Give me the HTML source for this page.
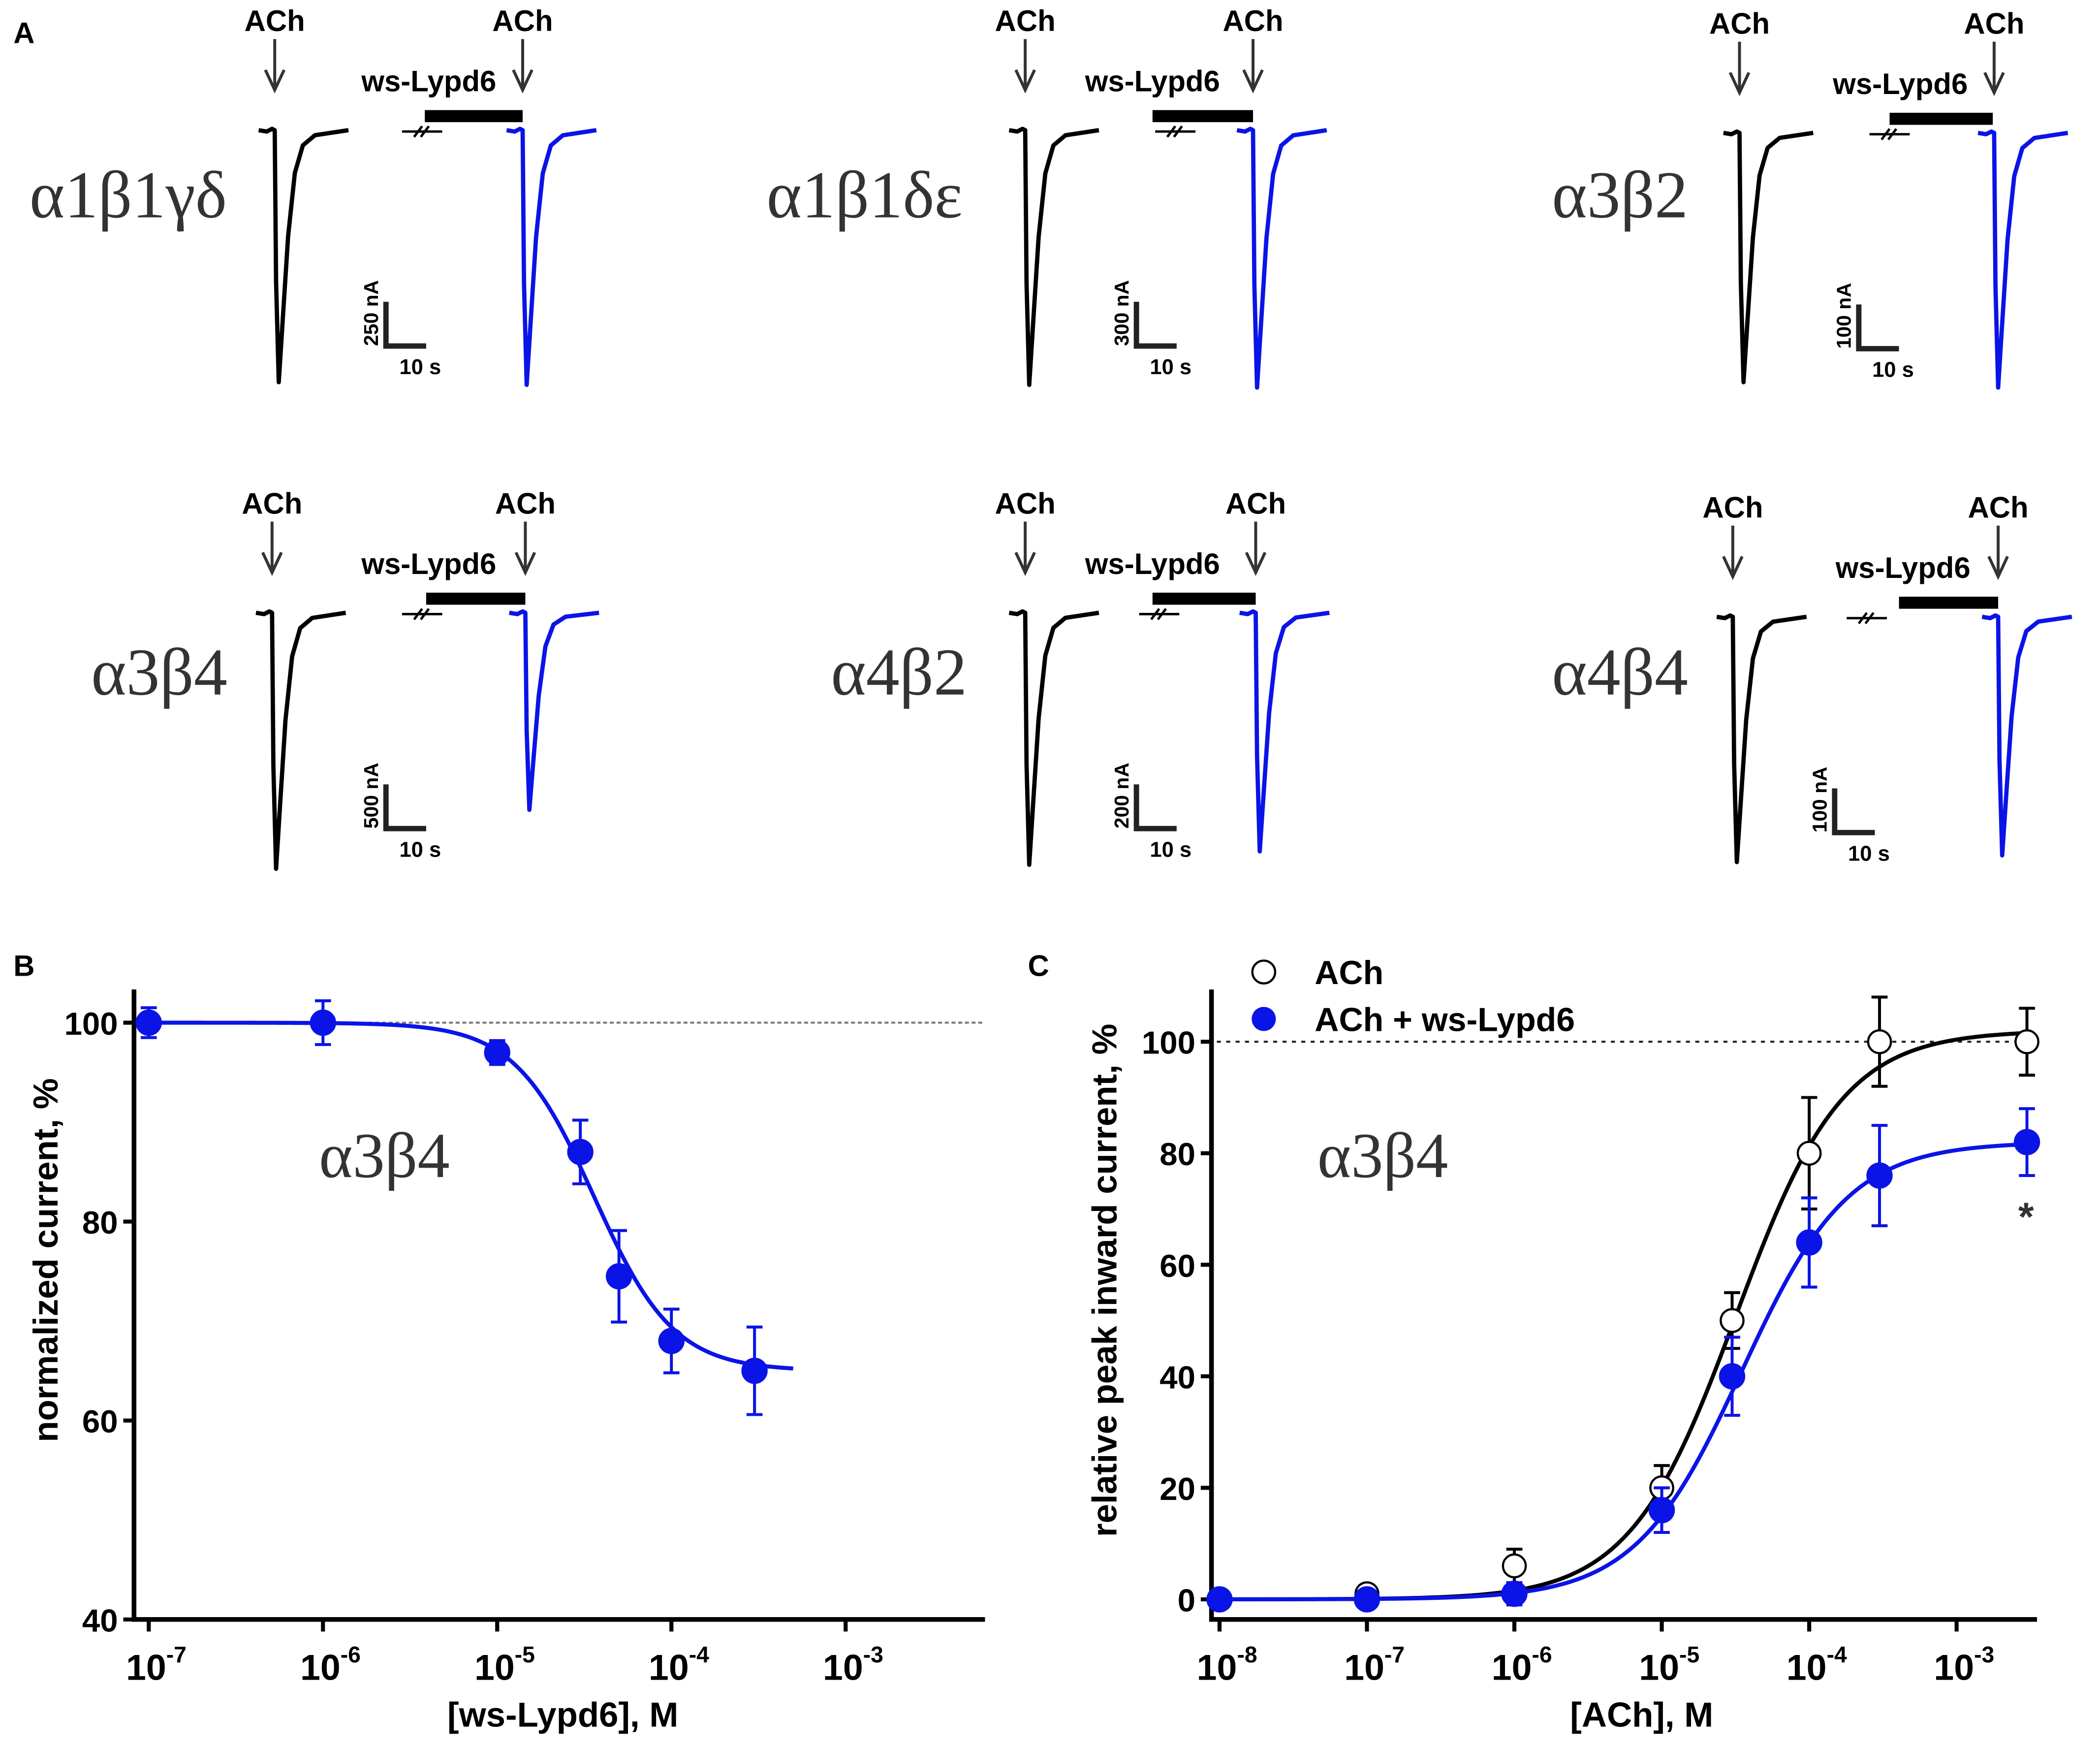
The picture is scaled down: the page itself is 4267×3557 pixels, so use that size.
<!DOCTYPE html>
<html><head><meta charset="utf-8"><style>html,body{margin:0;padding:0;background:#fff}svg{display:block}
.b{font-family:"Liberation Sans",sans-serif;font-weight:bold}
.g{font-family:"Liberation Serif","DejaVu Serif",serif;fill:#333}</style></head>
<body>
<svg id="fig" xmlns="http://www.w3.org/2000/svg" width="4267" height="3557" viewBox="0 0 1567 1306">
<rect width="1567" height="1306" fill="#fff"/>
<text class="b" x="10" y="32" font-size="22">A</text>
<g id="panelA"></g>
<text class="b" x="10" y="728" font-size="22">B</text>
<text class="b" x="767" y="728" font-size="22">C</text>
<g id="chartB"></g>
<g id="chartC"></g>
</svg>
<script>
// ---- Panel B data ----
const bConc = [1e-7, 1e-6, 1e-5, 3e-5, 5e-5, 1e-4, 3e-4];
const bMean = [100, 100, 97, 87, 74.5, 68, 65];
const bErr = [1.5, 2.2, 1.2, 3.2, 4.6, 3.2, 4.4];
const bFit = [65, 3.6e-5, 1.9]; // bottom, IC50, hill
const bYTicks = [40, 60, 80, 100];
const bXTicks = [-7, -6, -5, -4, -3];
// ---- Panel C data ----
const cConc = [1e-8, 1e-7, 1e-6, 1e-5, 3e-5, 1e-4, 3e-4, 3e-3];
const cAch = [0, 1, 6, 20, 50, 80, 100, 100];
const cAchErr = [0.5, 1, 3, 4, 5, 10, 8, 6];
const cLyp = [0, 0, 1, 16, 40, 64, 76, 82];
const cLypErr = [0.5, 0.5, 2, 4, 7, 8, 9, 6];
const cAchFit = [102, 3.2e-5, 1.2];
const cLypFit = [82, 3.5e-5, 1.2];
const cYTicks = [0, 20, 40, 60, 80, 100];
const cXTicks = [-8, -7, -6, -5, -4, -3];

const NS = "http://www.w3.org/2000/svg";
function mk(parent, tag, attrs, text) {
  const e = document.createElementNS(NS, tag);
  for (const k in attrs) e.setAttribute(k, attrs[k]);
  if (text !== undefined) e.textContent = text;
  parent.appendChild(e); return e;
}

function drawChart(g, o) {
  const xs = c => o.x0 + (Math.log10(c) - o.lx0) * o.dec;
  const ys = v => o.yb - (v - o.ymin) * o.ppu;
  let ax = mk(g, 'path', {d:`M${o.axX},${o.axTop} V${o.axY} H${o.axR}`, stroke:'#000', 'stroke-width':3.5, fill:'none'});
  
  
  o.yt.forEach(v => {
    let t = mk(g, 'line', {x1:o.axX-8, x2:o.axX, y1:ys(v), y2:ys(v), stroke:'#000', 'stroke-width':3});
    
    
    let l = mk(g, 'text', {x:o.axX-12, y:ys(v)+9, 'text-anchor':'end', 'font-size':24, class:'b'}, String(v));
    
    
  });
  o.xt.forEach(p => {
    const x = xs(Math.pow(10, p));
    let t = mk(g, 'line', {x1:x, x2:x, y1:o.axY, y2:o.axY+9, stroke:'#000', 'stroke-width':3});
    
    
    let l = mk(g, 'text', {x:x-17, y:o.axY+45, 'font-size':27, class:'b'});
    
    
    l.textContent = '10';
    mk(l, 'tspan', {dy:-13, 'font-size':17}, String(p));
  });
  let xl = mk(g, 'text', {x:o.xlx, y:o.axY+80, 'text-anchor':'middle', 'font-size':26, class:'b'}, o.xlabel);
  
  
  let yl = mk(g, 'text', {transform:`translate(${o.ylX},${o.yly}) rotate(-90)`, 'text-anchor':'middle', 'font-size':26, class:'b'}, o.ylabel);
  
  
  let dl = mk(g, 'line', {x1:o.dashX1, x2:o.dashX2, y1:ys(100), y2:ys(100), stroke:o.dashC, 'stroke-width':1.5, 'stroke-dasharray':o.dashA});
  
  
  let st = mk(g, 'text', {x:o.subX, y:o.subY, 'font-size':48, class:'g'}, 'α3β4');
  
  
  return {xs, ys};
}

function series(g, sc, conc, mean, err, fit, color, filled, fitRange, type, name) {
  let d = '';
  for (let i = 0; i <= 200; i++) {
    const lc = fitRange[0] + (fitRange[1]-fitRange[0]) * i / 200;
    const c = Math.pow(10, lc);
    let v;
    if (type === 'inh') v = fit[0] + (100 - fit[0]) / (1 + Math.pow(c / fit[1], fit[2]));
    else v = fit[0] / (1 + Math.pow(fit[1] / c, fit[2]));
    d += (i ? 'L' : 'M') + sc.xs(c).toFixed(2) + ',' + sc.ys(v).toFixed(2);
  }
  let p = mk(g, 'path', {d, stroke:color, 'stroke-width':3, fill:'none'});
  
  
  conc.forEach((c, i) => {
    const x = sc.xs(c), y = sc.ys(mean[i]), yt = sc.ys(mean[i] + err[i]), yb = sc.ys(mean[i] - err[i]);
    let e = mk(g, 'path', {d:`M${x},${yt}V${yb}M${x-6},${yt}H${x+6}M${x-6},${yb}H${x+6}`, stroke:color, 'stroke-width':2.2, fill:'none'});
    
    
    let m = mk(g, 'circle', {cx:x, cy:y, r:filled ? 9 : 8.5, fill:filled ? color : '#fff', stroke:filled ? color : '#000', 'stroke-width':1.6});
    
    
  });
}

const gB = document.getElementById('chartB');
const sB = drawChart(gB, {x0:111, lx0:-7, dec:130, yb:1208, ymin:40, ppu:7.42, axX:100, axTop:738, axY:1208, axR:735,
  yt:bYTicks, xt:bXTicks, xlabel:'[ws-Lypd6], M', xlx:420, ylabel:'normalized current, %', ylX:43, yly:940,
  dashX1:120, dashX2:735, dashC:'#777', dashA:'3,2', subX:238, subY:878});
series(gB, sB, bConc, bMean, bErr, bFit, '#0a14e6', true, [-7, Math.log10(5e-4)], 'inh', 'lypd6');

const gC = document.getElementById('chartC');
const sC = drawChart(gC, {x0:910, lx0:-8, dec:110, yb:1193, ymin:0, ppu:4.16, axX:904, axTop:738, axY:1208, axR:1520,
  yt:cYTicks, xt:cXTicks, xlabel:'[ACh], M', xlx:1225, ylabel:'relative peak inward current, %', ylX:833, yly:955,
  dashX1:908, dashX2:1520, dashC:'#222', dashA:'3,4', subX:983, subY:878});
series(gC, sC, cConc, cAch, cAchErr, cAchFit, '#000', false, [-8, Math.log10(3e-3)], 'act', 'ach');
series(gC, sC, cConc, cLyp, cLypErr, cLypFit, '#0a14e6', true, [-8, Math.log10(3e-3)], 'act', 'ach-lypd6');
let lg1 = mk(gC, 'circle', {cx:943, cy:725, r:8.5, fill:'#fff', stroke:'#000', 'stroke-width':1.6});


let lt1 = mk(gC, 'text', {x:981, y:734, 'font-size':25, class:'b'}, 'ACh');


let lg2 = mk(gC, 'circle', {cx:943, cy:760, r:9, fill:'#0a14e6'});


let lt2 = mk(gC, 'text', {x:981, y:769, 'font-size':25, class:'b'}, 'ACh + ws-Lypd6');


let ast = mk(gC, 'text', {x:1506, y:918, 'font-size':30, class:'b', fill:'#333'}, '*');



// ---- Panel A traces ----
const panels = [
  {lab:'α1β1γδ', lx:22, ly:162, bx:205, bx2:390, y0:97, pk1:188, pk2:190, sx:288, sc:'250 nA', bar:[317,390], brk:300, ws:320},
  {lab:'α1β1δε', lx:572, ly:162, bx:765, bx2:935, y0:97, pk1:190, pk2:192, sx:848, sc:'300 nA', bar:[860,935], brk:862, ws:860},
  {lab:'α3β2', lx:1158, ly:162, bx:1298, bx2:1488, y0:99, pk1:186, pk2:190, sx:1387, sc:'100 nA', bar:[1410,1487], brk:1395, ws:1418},
  {lab:'α3β4', lx:68, ly:518, bx:203, bx2:392, y0:457, pk1:191, pk2:147, sx:288, sc:'500 nA', bar:[318,392], brk:300, ws:320},
  {lab:'α4β2', lx:620, ly:518, bx:765, bx2:937, y0:457, pk1:188, pk2:178, sx:848, sc:'200 nA', bar:[860,937], brk:850, ws:860},
  {lab:'α4β4', lx:1158, ly:518, bx:1293, bx2:1491, y0:460, pk1:183, pk2:178, sx:1369, sc:'100 nA', bar:[1417,1491], brk:1378, ws:1420}
];
const gA = document.getElementById('panelA');
function trace(x0, y0, d, col) {
  const s = `M${x0-12},${y0}L${x0-6},${y0+1}L${x0-2},${y0-1}L${x0},${y0}L${x0+1},${y0+d*0.6}L${x0+3},${y0+d}L${x0+6},${y0+d*0.75}L${x0+10},${y0+d*0.42}L${x0+15},${y0+d*0.17}L${x0+21},${y0+d*0.06}L${x0+30},${y0+d*0.02}L${x0+55},${y0}`;
  return mk(gA, 'path', {d:s, stroke:col, 'stroke-width':3.2, fill:'none', 'stroke-linejoin':'round'});
}
function arrow(x, top) {
  return mk(gA, 'path', {d:`M${x},${top}V${top+36}M${x-7},${top+23}L${x},${top+38}L${x+7},${top+23}`, stroke:'#333', 'stroke-width':2.2, fill:'none'});
}
panels.forEach(p => {
  const lt = mk(gA, 'text', {x:p.lx, y:p.ly, 'font-size':50, class:'g'}, p.lab);
  
  
  const t1 = trace(p.bx, p.y0, p.pk1, '#000');
  
  
  const t2 = trace(p.bx2, p.y0, p.pk2, '#0a14e6');
  
  
  [p.bx, p.bx2].forEach(x => {
    const a = arrow(x, p.y0 - 68);
    
    
    const at = mk(gA, 'text', {x:x, y:p.y0 - 74, 'text-anchor':'middle', 'font-size':22, class:'b'}, 'ACh');
    
    
  });
  const br = mk(gA, 'rect', {x:p.bar[0], y:p.y0-15, width:p.bar[1]-p.bar[0], height:9, fill:'#000'});
  
  
  const wt = mk(gA, 'text', {x:p.ws, y:p.y0-29, 'text-anchor':'middle', 'font-size':22, class:'b'}, 'ws-Lypd6');
  
  
  const bk = mk(gA, 'path', {d:`M${p.brk},${p.y0+1}H${p.brk+30}M${p.brk+9},${p.y0+5}L${p.brk+15},${p.y0-3}M${p.brk+14},${p.y0+5}L${p.brk+20},${p.y0-3}`, stroke:'#000', 'stroke-width':1.8, fill:'none'});
  
  
  const sy = p.y0 + 161;
  const sb = mk(gA, 'path', {d:`M${p.sx},${sy-33}V${sy}H${p.sx+30}`, stroke:'#222', 'stroke-width':4, fill:'none'});
  
  
  const s1 = mk(gA, 'text', {transform:`translate(${p.sx-6},${sy}) rotate(-90)`, 'font-size':15, class:'b'}, p.sc);
  
  
  const s2 = mk(gA, 'text', {x:p.sx+10, y:sy+21, 'font-size':16, class:'b'}, '10 s');
  
  
});
</script>
</body></html>
